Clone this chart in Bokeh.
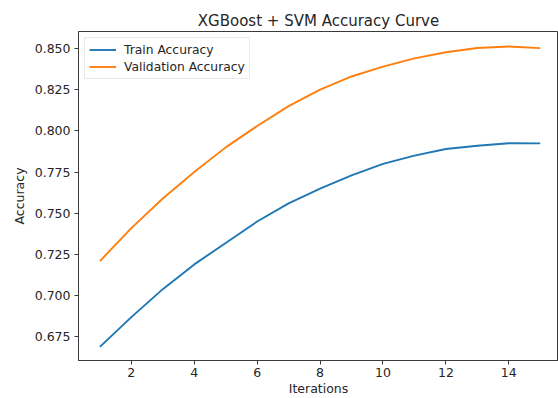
from bokeh.plotting import figure
from bokeh.models import Range1d, FixedTicker, NumeralTickFormatter
from bokeh.embed import file_html
from bokeh.resources import INLINE

iterations = list(range(1, 16))
train_acc = [0.669, 0.687, 0.704, 0.719, 0.732, 0.745, 0.756, 0.765, 0.773, 0.780, 0.785, 0.789, 0.791, 0.7925, 0.7924]
val_acc = [0.721, 0.741, 0.759, 0.775, 0.790, 0.803, 0.815, 0.825, 0.833, 0.839, 0.844, 0.8477, 0.8503, 0.8512, 0.8502]
x_ticks = [2, 4, 6, 8, 10, 12, 14]
y_ticks = [0.675, 0.700, 0.725, 0.750, 0.775, 0.800, 0.825, 0.850]

FONT = "DejaVu Sans"
TXT = "#262626"
AX = "#3a3a3a"

p = figure(width=558, height=398, output_backend="svg", toolbar_location=None,
           title="XGBoost + SVM Accuracy Curve",
           x_range=Range1d(0.32, 15.58), y_range=Range1d(0.6607, 0.8603),
           min_border_left=78, min_border_right=0, min_border_top=31, min_border_bottom=37)

p.line(iterations, train_acc, line_color="#1f77b4", line_width=1.9, legend_label="Train Accuracy")
p.line(iterations, val_acc, line_color="#ff7f0e", line_width=1.9, legend_label="Validation Accuracy")

p.title.text_font = FONT
p.title.text_font_size = "15px"
p.title.text_font_style = "normal"
p.title.text_color = TXT
p.title.align = "center"
p.title.standoff = 4

p.xgrid.visible = False
p.ygrid.visible = False
p.outline_line_color = AX
p.outline_line_width = 1

for ax in (p.xaxis[0], p.yaxis[0]):
    ax.axis_line_color = AX
    ax.major_tick_line_color = AX
    ax.major_tick_out = 4
    ax.major_tick_in = 0
    ax.minor_tick_line_color = None
    ax.major_label_text_font = FONT
    ax.major_label_text_font_size = "12.5px"
    ax.major_label_text_color = TXT
    ax.axis_label_text_font = FONT
    ax.axis_label_text_font_size = "12.5px"
    ax.axis_label_text_font_style = "normal"
    ax.axis_label_text_color = TXT

p.xaxis.ticker = FixedTicker(ticks=x_ticks)
p.yaxis.ticker = FixedTicker(ticks=y_ticks)
p.yaxis.formatter = NumeralTickFormatter(format="0.000")
p.xaxis.axis_label = "Iterations"
p.yaxis.axis_label = "Accuracy"
p.xaxis.major_label_standoff = 3
p.xaxis.axis_label_standoff = 1
p.yaxis.major_label_standoff = 4
p.yaxis.axis_label_standoff = 5

lg = p.legend[0]
lg.location = "top_left"
lg.margin = 6
lg.padding = 4
lg.spacing = 2
lg.glyph_width = 27
lg.glyph_height = 15
lg.label_height = 15
lg.label_standoff = 8
lg.label_text_font = FONT
lg.label_text_font_size = "12.3px"
lg.label_text_color = TXT
lg.border_line_color = "#d6d6d6"
lg.border_line_width = 1
lg.background_fill_alpha = 0.8

open("out.html", "w").write(file_html(p, INLINE))
